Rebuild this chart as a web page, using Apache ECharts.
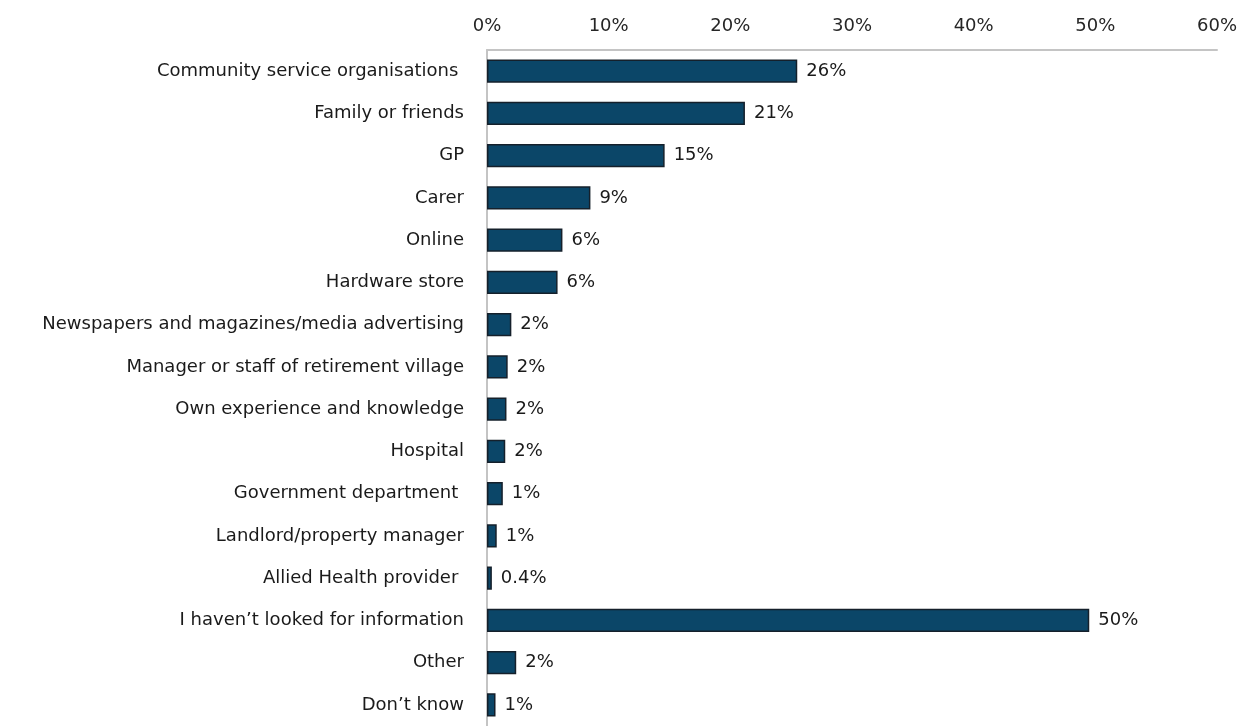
<!DOCTYPE html>
<html>
<head>
<meta charset="utf-8">
<script src="https://cdn.jsdelivr.net/npm/echarts@6/dist/echarts.min.js"></script>
<style>
  html, body { margin: 0; padding: 0; background: #fff; }
  #chart { width: 1240px; height: 726px; }
</style>
</head>
<body>
<div id="chart"></div>
<script>
const categories = [
  'Community service organisations ',
  'Family or friends',
  'GP',
  'Carer',
  'Online',
  'Hardware store',
  'Newspapers and magazines/media advertising',
  'Manager or staff of retirement village',
  'Own experience and knowledge',
  'Hospital',
  'Government department ',
  'Landlord/property manager',
  'Allied Health provider ',
  'I haven\u2019t looked for information',
  'Other',
  'Don\u2019t know'
];
const values = [25.5, 21.2, 14.6, 8.5, 6.2, 5.8, 2.0, 1.7, 1.6, 1.5, 1.3, 0.8, 0.4, 49.5, 2.4, 0.7];
const valueLabels = ['26%', '21%', '15%', '9%', '6%', '6%', '2%', '2%', '2%', '2%', '1%', '1%', '0.4%', '50%', '2%', '1%'];

const chart = echarts.init(document.getElementById('chart'));
const font = '"DejaVu Sans", sans-serif';

chart.setOption({
  animation: false,
  grid: { left: 487, top: 50, width: 731, height: 683 },
  xAxis: {
    type: 'value',
    position: 'top',
    min: 0,
    max: 60,
    interval: 10,
    axisLine: { show: true, lineStyle: { color: '#c4c4c4', width: 2 } },
    axisTick: { show: false },
    splitLine: { show: false },
    axisLabel: {
      formatter: '{value}%',
      color: '#262626',
      fontSize: 18,
      fontFamily: font,
      margin: 15
    }
  },
  yAxis: {
    type: 'category',
    inverse: true,
    data: categories,
    axisLine: { show: true, lineStyle: { color: '#c4c4c4', width: 2 } },
    axisTick: { show: false },
    axisLabel: {
      color: '#1a1a1a',
      fontSize: 18,
      fontFamily: font,
      margin: 23
    }
  },
  series: [{
    type: 'bar',
    data: values,
    barCategoryGap: '45%',
    itemStyle: { color: '#0b4668', borderColor: '#15202b', borderWidth: 1.5 },
    label: {
      show: true,
      position: 'right',
      distance: 9,
      color: '#1a1a1a',
      fontSize: 18,
      fontFamily: font,
      formatter: p => valueLabels[p.dataIndex]
    }
  }]
});
</script>
</body>
</html>
